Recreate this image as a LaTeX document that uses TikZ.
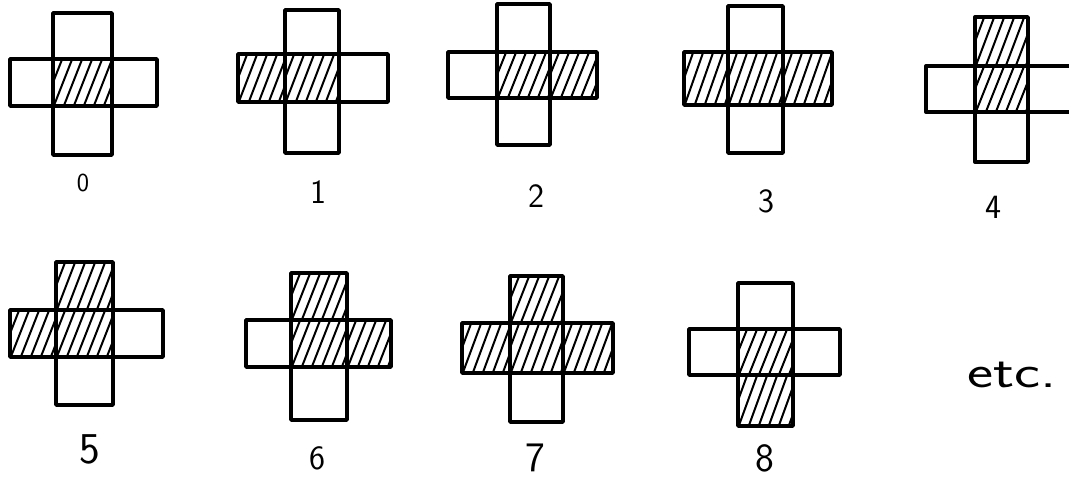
\documentclass[tikz,border=0pt]{standalone}
\usepackage{graphicx}
\tikzset{
  outline/.style={line width=3.4pt, line join=round, line cap=round},
  hatchline/.style={line width=2pt, line cap=round},
  lab/.style={inner sep=0pt, font=\sffamily}
}
\newcommand\hatchcell[4]{%
  \begin{scope}
    \clip (#1,#2) rectangle (#3,#4);
    \foreach \k in {-30,-20,...,90}{\draw[hatchline] ({#1+\k},{#4+2}) -- ({#1+\k+20},{#2-2});}
  \end{scope}}
\newcommand\hatchC{\hatchcell{\vxa}{\hya}{\vxb}{\hyb}}
\newcommand\hatchL{\hatchcell{\cleft}{\hya}{\vxa}{\hyb}}
\newcommand\hatchR{\hatchcell{\vxb}{\hya}{\cright}{\hyb}}
\newcommand\hatchT{\hatchcell{\vxa}{\ctop}{\vxb}{\hya}}
\newcommand\hatchB{\hatchcell{\vxa}{\hyb}{\vxb}{\cbot}}
% vx1 vx2 top hy1 hy2 left right bottom hatches
\newcommand\crossfig[9]{%
  \def\vxa{#1}\def\vxb{#2}\def\ctop{#3}\def\hya{#4}\def\hyb{#5}%
  \def\cleft{#6}\def\cright{#7}\def\cbot{#8}%
  #9%
  \draw[outline] (#1,#3) rectangle (#2,#8);
  \draw[outline] (#6,#4) rectangle (#7,#5);}
\begin{document}
\begin{tikzpicture}[x=1pt,y=-1pt]
\useasboundingbox (0,0) rectangle (1069,480);
\clip (0,0) rectangle (1069,480);
\fill[white] (0,0) rectangle (1069,480);
% row 1
\crossfig{53}{112}{13}{59}{106}{10}{157}{155}{\hatchC}
\crossfig{285}{339}{10}{54}{102}{238}{388}{153}{\hatchC\hatchL}
\crossfig{497}{550}{4}{52}{98}{448}{597}{145}{\hatchC\hatchR}
\crossfig{728}{783}{6}{52}{105}{684}{832}{153}{\hatchL\hatchC\hatchR}
\crossfig{975}{1028}{17}{66}{112}{926}{1085}{162}{\hatchC\hatchT}
% row 2
\crossfig{56}{113}{262}{310}{357}{10}{163}{405}{\hatchT\hatchL\hatchC}
\crossfig{291}{347}{273}{320}{367}{246}{391}{420}{\hatchT\hatchC\hatchR}
\crossfig{510}{563}{276}{323}{373}{462}{613}{422}{\hatchT\hatchL\hatchC\hatchR}
\crossfig{738}{793}{283}{329}{375}{689}{840}{426}{\hatchC\hatchB}
% labels
\node[lab, font=\sffamily\fontsize{26}{28}\selectfont] (l0) at (83,183) {0};
\node[lab, font=\sffamily\fontsize{34}{36}\selectfont] (l1) at (318,192) {1};
\node[lab, font=\sffamily\fontsize{34}{36}\selectfont] (l2) at (536,196) {2};
\node[lab, font=\sffamily\fontsize{34}{36}\selectfont] (l3) at (766,201) {3};
\node[lab, font=\sffamily\fontsize{34}{36}\selectfont] (l4) at (993,207) {4};
\node[lab, font=\sffamily\fontsize{44}{46}\selectfont] (l5) at (90,449) {5};
\node[lab, font=\sffamily\fontsize{34}{36}\selectfont] (l6) at (317,458) {6};
\node[lab, font=\sffamily\fontsize{42}{44}\selectfont] (l7) at (535,458) {7};
\node[lab, font=\sffamily\fontsize{40}{42}\selectfont] (l8) at (765,458) {8};
\node[lab, font=\sffamily\fontsize{46}{48}\selectfont, anchor=base] (etc) at (1012,387) {\scalebox{1.35}[1]{etc.}};
\end{tikzpicture}
\end{document}
